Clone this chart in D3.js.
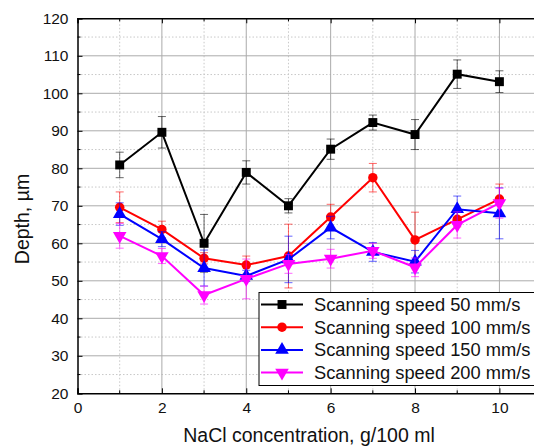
<!DOCTYPE html>
<html>
<head>
<meta charset="utf-8">
<script src="https://cdn.jsdelivr.net/npm/d3@7"></script>
<style>
  body { margin: 0; background: #fff; }
  svg text { font-family: "Liberation Sans", Arial, sans-serif; fill: #111; }
</style>
</head>
<body>
<div id="chart"></div>
<script>
// Data.
const conc = [1, 2, 3, 4, 5, 6, 7, 8, 9, 10];
const labels = ["Scanning speed 50 mm/s", "Scanning speed 100 mm/s", "Scanning speed 150 mm/s", "Scanning speed 200 mm/s"];
const depth50  = [80.9, 89.6, 60.0, 78.9, 70.0, 85.1, 92.2, 89.0, 105.1, 103.1];
const err50    = [3.4, 4.2, 7.7, 3.1, 1.9, 2.7, 2.0, 4.0, 3.8, 2.9];
const depth100 = [69.6, 63.7, 56.0, 54.2, 56.6, 67.0, 77.5, 60.9, 66.4, 71.8];
const err100   = [4.1, 2.2, 1.5, 2.4, 8.5, 3.4, 3.8, 7.4, 2.0, 4.0];
const depth150 = [67.8, 61.1, 53.4, 51.3, 55.7, 64.2, 57.7, 55.1, 69.1, 68.0];
const err150   = [3.0, 2.0, 4.8, 1.5, 6.2, 3.0, 2.5, 3.0, 3.5, 6.8];
const depth200 = [62.0, 56.6, 46.2, 50.5, 54.5, 55.9, 58.0, 53.6, 64.9, 70.7];
const err200   = [3.3, 2.0, 2.4, 5.3, 2.5, 2.5, 2.0, 2.5, 3.5, 4.0];
const xTicks = [0, 2, 4, 6, 8, 10];
const yTicks = [20, 30, 40, 50, 60, 70, 80, 90, 100, 110, 120];

const colors = ["#000000", "#ff0000", "#0000ff", "#ff00ff"];
const symbols = [d3.symbolSquare, d3.symbolCircle, d3.symbolTriangle, d3.symbolTriangle];
const symSize = [80, 70, 80, 80];
const symRot = [0, 0, 0, 180];

const series = [depth50, depth100, depth150, depth200].map((v, k) => ({
  name: labels[k],
  color: colors[k],
  pts: conc.map((c, i) => ({ x: c, y: v[i], e: [err50, err100, err150, err200][k][i] }))
}));

const W = 534, H = 448;
const svg = d3.select("#chart").append("svg")
  .attr("width", W).attr("height", H);

// Scales
const x = d3.scaleLinear().domain([0, 11]).range([77.5, 541.6]);
const y = d3.scaleLinear().domain([20, 120]).range([393.3, 18.3]);
const x0 = x.range()[0], x1 = x.range()[1], yb = y.range()[0], yt = y.range()[1];

// Grid: dotted minor, solid major
const grid = svg.append("g");
grid.selectAll(".minx").data(d3.range(1, 11, 2)).join("line")
  .attr("x1", d => x(d)).attr("x2", d => x(d)).attr("y1", yb).attr("y2", yt)
  .attr("stroke", "#c8c8c8").attr("stroke-dasharray", "1.5,2");
grid.selectAll(".miny").data(d3.range(25, 120, 10)).join("line")
  .attr("x1", x0).attr("x2", x1).attr("y1", d => y(d)).attr("y2", d => y(d))
  .attr("stroke", "#c8c8c8").attr("stroke-dasharray", "1.5,2");
grid.selectAll(".majx").data(xTicks.slice(1)).join("line")
  .attr("x1", d => x(d)).attr("x2", d => x(d)).attr("y1", yb).attr("y2", yt)
  .attr("stroke", "#ababab");
grid.selectAll(".majy").data(yTicks.slice(1, -1)).join("line")
  .attr("x1", x0).attr("x2", x1).attr("y1", d => y(d)).attr("y2", d => y(d))
  .attr("stroke", "#ababab");

// Axes, ticks inward
const axisG = svg.append("g");
const minorX = d3.range(1, 11, 2), minorY = d3.range(25, 120, 10);
axisG.append("g").attr("transform", `translate(0,${yb})`)
  .call(d3.axisBottom(x).tickValues(xTicks).tickSize(-5).tickPadding(9).tickFormat(d3.format("d")));
axisG.append("g").attr("transform", `translate(0,${yt})`)
  .call(d3.axisTop(x).tickValues(xTicks).tickSize(-5).tickFormat(""));
axisG.append("g").attr("transform", `translate(${x0},0)`)
  .call(d3.axisLeft(y).tickValues(yTicks).tickSize(-5).tickPadding(9).tickFormat(d3.format("d")));
axisG.selectAll(".domain").attr("stroke", "#000").attr("stroke-width", 1.5);
axisG.selectAll(".tick line").attr("stroke", "#000");
axisG.selectAll(".tick text").style("font-size", "15.5px").attr("fill", "#111");
// minor ticks
axisG.selectAll(".mtx").data(minorX).join("line")
  .attr("x1", d => x(d)).attr("x2", d => x(d)).attr("y1", yb).attr("y2", yb - 3).attr("stroke", "#000");
axisG.selectAll(".mtxt").data(minorX).join("line")
  .attr("x1", d => x(d)).attr("x2", d => x(d)).attr("y1", yt).attr("y2", yt + 3).attr("stroke", "#000");
axisG.selectAll(".mty").data(minorY).join("line")
  .attr("x1", x0).attr("x2", x0 + 3).attr("y1", d => y(d)).attr("y2", d => y(d)).attr("stroke", "#000");

// Axis titles
svg.append("text")
  .attr("x", 309).attr("y", 442)
  .attr("text-anchor", "middle").style("font-size", "19.5px")
  .text("NaCl concentration, g/100 ml");
svg.append("text")
  .attr("transform", "translate(28.5,219) rotate(-90)")
  .attr("text-anchor", "middle").style("font-size", "19.5px")
  .text("Depth, \u00b5m");

// Series
const line = d3.line().x(d => x(d.x)).y(d => y(d.y));
const sg = svg.append("g").selectAll("g").data(series).join("g");

sg.each(function(s, k) {
  const g = d3.select(this);
  // error bars
  const eb = g.append("g").attr("stroke", s.color).attr("stroke-opacity", 0.6);
  eb.selectAll(".v").data(s.pts).join("line")
    .attr("x1", d => x(d.x)).attr("x2", d => x(d.x))
    .attr("y1", d => y(d.y - d.e)).attr("y2", d => y(d.y + d.e));
  eb.selectAll(".t").data(s.pts.flatMap(d => [d.y - d.e, d.y + d.e].map(v => ({ x: d.x, v })))).join("line")
    .attr("x1", d => x(d.x) - 4).attr("x2", d => x(d.x) + 4)
    .attr("y1", d => y(d.v)).attr("y2", d => y(d.v));
  g.append("path").datum(s.pts)
    .attr("fill", "none").attr("stroke", s.color).attr("stroke-width", 2)
    .attr("d", line);
  g.selectAll(".m").data(s.pts).join("path")
    .attr("transform", d => `translate(${x(d.x)},${y(d.y)}) rotate(${symRot[k]})`)
    .attr("d", d3.symbol(symbols[k], symSize[k]))
    .attr("fill", s.color);
});

// Legend
const lg = svg.append("g").attr("transform", "translate(259,292.5)");
lg.append("rect").attr("width", 300).attr("height", 93)
  .attr("fill", "#fff").attr("stroke", "#000").attr("stroke-width", 1);
const li = lg.selectAll(".li").data(series).join("g")
  .attr("transform", (d, i) => `translate(0,${12 + i * 22.7})`);
li.append("line").attr("x1", 2).attr("x2", 44)
  .attr("stroke", d => d.color).attr("stroke-width", 2);
li.append("path")
  .attr("transform", (d, i) => `translate(23,0) rotate(${symRot[i]})`)
  .attr("d", (d, i) => d3.symbol(symbols[i], symSize[i])())
  .attr("fill", d => d.color);
li.append("text").attr("x", 55).attr("dy", "0.35em")
  .style("font-size", "18.3px").text(d => d.name);
</script>
</body>
</html>
